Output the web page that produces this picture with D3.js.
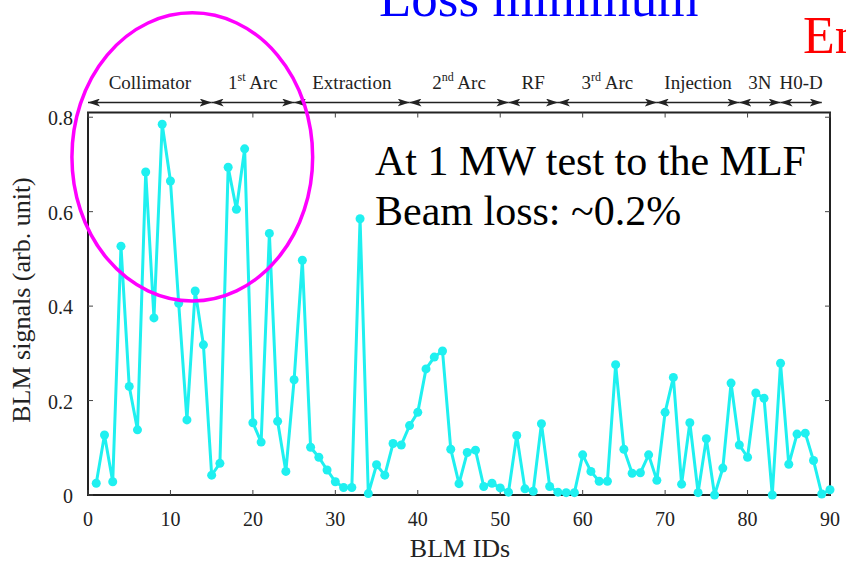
<!DOCTYPE html>
<html>
<head>
<meta charset="utf-8">
<script src="https://cdn.jsdelivr.net/npm/d3@7"></script>
<style>
  html, body { margin: 0; padding: 0; background: #fff; }
  svg { display: block; }
  text { font-family: "Liberation Serif", "Times New Roman", serif; }
</style>
</head>
<body>
<svg id="chart" width="846" height="563"></svg>
<script>
// ---------- data ----------
const blmIds = [1,2,3,4,5,6,7,8,9,10,11,12,13,14,15,16,17,18,19,20,
  21,22,23,24,25,26,27,28,29,30,31,32,33,34,35,36,37,38,39,40,
  41,42,43,44,45,46,47,48,49,50,51,52,53,54,55,56,57,58,59,60,
  61,62,63,64,65,66,67,68,69,70,71,72,73,74,75,76,77,78,79,80,
  81,82,83,84,85,86,87,88,89,90];
const blmSignals = [0.025,0.127,0.028,0.527,0.230,0.138,0.684,0.375,0.785,0.665,
  0.406,0.159,0.432,0.318,0.042,0.067,0.694,0.605,0.733,0.153,
  0.112,0.554,0.156,0.050,0.244,0.497,0.101,0.080,0.053,0.028,
  0.016,0.016,0.585,0.003,0.064,0.042,0.109,0.106,0.147,0.175,
  0.267,0.292,0.305,0.097,0.024,0.090,0.095,0.018,0.025,0.015,
  0.006,0.126,0.013,0.008,0.151,0.018,0.006,0.005,0.005,0.085,
  0.050,0.029,0.029,0.276,0.097,0.046,0.047,0.085,0.031,0.175,
  0.249,0.023,0.153,0.005,0.119,0.000,0.057,0.237,0.106,0.080,
  0.216,0.205,0.000,0.279,0.065,0.129,0.131,0.073,0.002,0.011];

const xTicks = [0,10,20,30,40,50,60,70,80,90];
const yTicks = [0,0.2,0.4,0.6,0.8];

const sectionBase = ["Collimator","1","Extraction","2","RF","3","Injection","3N","H0-D"];
const sectionSup  = ["","st","","nd","","rd","","",""];
const sectionTail = [""," Arc",""," Arc",""," Arc","","",""];
const sectionStart = [0,15,25,39,51,57,69,79,84];
const sectionEnd   = [15,25,39,51,57,69,79,84,89];

const titleText = "Loss minimum";
const cornerText = "En";
const noteLines = ["At 1 MW test to the MLF","Beam loss: ~0.2%"];

// ---------- layout ----------
const svg = d3.select("#chart");
const pLeft = 88, pRight = 830, pTop = 112.5, pBottom = 495;
const x = d3.scaleLinear().domain([0, 90]).range([pLeft, pRight]);
const y = d3.scaleLinear().domain([0, 0.81]).range([pBottom, pTop]);

// titles (slide text, partly outside the view as in the slide)
svg.append("text").attr("x", 379).attr("y", 16)
  .attr("font-size", 53).attr("fill", "#0000ff").text(titleText);
svg.append("text").attr("x", 803).attr("y", 53)
  .attr("font-size", 52).attr("fill", "#ff0000").text(cornerText);

// frame
svg.append("rect").attr("x", pLeft).attr("y", pTop)
  .attr("width", pRight - pLeft).attr("height", pBottom - pTop)
  .attr("fill", "none").attr("stroke", "#222").attr("stroke-width", 2);

// ticks (inward, both sides)
const tickLen = 5;
const g = svg.append("g").attr("stroke", "#444").attr("stroke-width", 1);
xTicks.forEach(t => {
  g.append("line").attr("x1", x(t)).attr("x2", x(t)).attr("y1", pBottom).attr("y2", pBottom - tickLen);
  g.append("line").attr("x1", x(t)).attr("x2", x(t)).attr("y1", pTop).attr("y2", pTop + tickLen);
});
yTicks.forEach(t => {
  g.append("line").attr("x1", pLeft).attr("x2", pLeft + tickLen).attr("y1", y(t)).attr("y2", y(t));
  g.append("line").attr("x1", pRight).attr("x2", pRight - tickLen).attr("y1", y(t)).attr("y2", y(t));
});

// tick labels
svg.append("g").selectAll("text").data(xTicks).join("text")
  .attr("x", d => x(d)).attr("y", 526)
  .attr("text-anchor", "middle").attr("font-size", 20).attr("fill", "#222")
  .text(d => d);
svg.append("g").selectAll("text").data(yTicks).join("text")
  .attr("x", 73).attr("y", d => y(d) + 8)
  .attr("text-anchor", "end").attr("font-size", 20).attr("fill", "#222")
  .text(d => d === 0 ? "0" : d.toFixed(1));

// axis titles
svg.append("text").attr("x", 460).attr("y", 557)
  .attr("text-anchor", "middle").attr("font-size", 26).attr("fill", "#222")
  .text("BLM IDs");
svg.append("text").attr("transform", "translate(30,300) rotate(-90)")
  .attr("text-anchor", "middle").attr("font-size", 26).attr("fill", "#222")
  .text("BLM signals (arb. unit)");

// section arrows
const defs = svg.append("defs");
defs.append("marker").attr("id", "ah").attr("viewBox", "0 0 12 8")
  .attr("refX", 12).attr("refY", 4).attr("markerWidth", 12).attr("markerHeight", 8)
  .attr("markerUnits", "userSpaceOnUse").attr("orient", "auto-start-reverse")
  .append("path").attr("d", "M0,0 L12,4 L0,8 L3,4 Z").attr("fill", "#222");
const ySec = 102.5;
svg.append("g").selectAll("line").data(sectionStart).join("line")
  .attr("x1", d => x(d)).attr("x2", (d, i) => x(sectionEnd[i]))
  .attr("y1", ySec).attr("y2", ySec)
  .attr("stroke", "#222").attr("stroke-width", 1.5)
  .attr("marker-start", "url(#ah)").attr("marker-end", "url(#ah)");
const lab = svg.append("g").selectAll("text").data(sectionStart).join("text")
  .attr("x", (d, i) => x((d + sectionEnd[i]) / 2)).attr("y", 89)
  .attr("text-anchor", "middle").attr("font-size", 19).attr("fill", "#222");
lab.append("tspan").text((d, i) => sectionBase[i]);
lab.append("tspan").attr("font-size", 12).attr("dy", -8).text((d, i) => sectionSup[i]);
lab.append("tspan").attr("dy", 8).text((d, i) => sectionTail[i]);

// data line
const pts = blmIds.map((id, i) => [id, blmSignals[i]]);
const lineColor = "#1ff0f0";
svg.append("path").datum(pts)
  .attr("d", d3.line().x(d => x(d[0])).y(d => y(d[1])))
  .attr("fill", "none").attr("stroke", lineColor).attr("stroke-width", 3);
svg.append("g").selectAll("circle").data(pts).join("circle")
  .attr("cx", d => x(d[0])).attr("cy", d => y(d[1])).attr("r", 4.5)
  .attr("fill", lineColor);

// annotation text
svg.append("g").selectAll("text").data(noteLines).join("text")
  .attr("x", 375).attr("y", (d, i) => 175 + i * 50)
  .attr("font-size", 42).attr("fill", "#000").text(d => d);

// magenta ellipse (in data units)
const ell = { cx: 12.65, cy: 0.716, rx: 14.6, ry: 0.305 };
svg.append("ellipse")
  .attr("cx", x(ell.cx)).attr("cy", y(ell.cy))
  .attr("rx", x(ell.rx) - x(0)).attr("ry", y(0) - y(ell.ry))
  .attr("fill", "none").attr("stroke", "#ff00ff").attr("stroke-width", 3.5);
</script>
</body>
</html>
